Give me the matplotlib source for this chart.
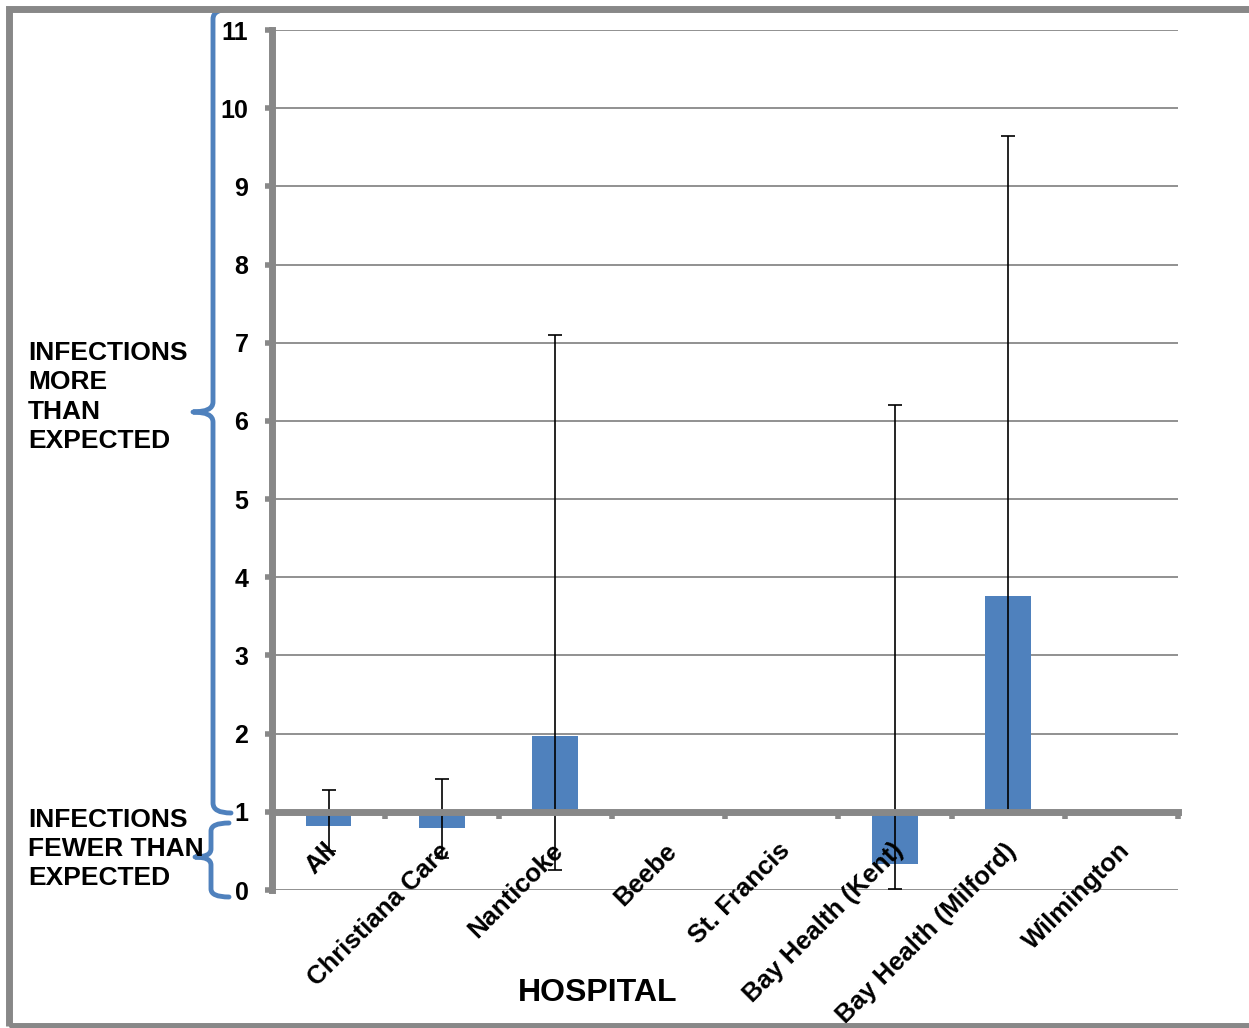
import numpy as np
import matplotlib.pyplot as plt
from matplotlib.path import Path
from matplotlib.patches import PathPatch, Rectangle

plt.rcParams['font.family'] = ['Liberation Sans', 'DejaVu Sans']
plt.rcParams['font.weight'] = 'bold'

hospitals = ['All', 'Christiana Care', 'Nanticoke', 'Beebe', 'St. Francis',
             'Bay Health (Kent)', 'Bay Health (Milford)', 'Wilmington']
sir = [0.82, 0.79, 1.97, np.nan, np.nan, 0.33, 3.76, np.nan]
ci_low = [0.50, 0.41, 0.25, np.nan, np.nan, 0.01, 1.0, np.nan]
ci_high = [1.28, 1.42, 7.10, np.nan, np.nan, 6.20, 9.64, np.nan]
yticks = list(range(0, 12))

W, H = 1249, 1028
fig = plt.figure(figsize=(W / 100, H / 100), dpi=100)
ax = fig.add_axes([272 / W, 1 - 890 / H, (1178 - 272) / W, (890 - 30) / H])

gris = '#888888'
azul = '#4F81BD'
x = np.arange(len(hospitals))
sir = np.array(sir)
lo = np.array(ci_low)
hi = np.array(ci_high)

# barras que parten de 1 (referencia)
ax.bar(x, sir - 1, bottom=1, width=0.4, color=azul, zorder=2)
ax.errorbar(x, sir, yerr=[sir - lo, hi - sir], fmt='none', ecolor='black',
            elinewidth=1.2, capsize=5, capthick=1.2, zorder=2.5)

ax.set_xlim(-0.5, len(hospitals) - 0.5)
ax.set_ylim(0, 11)
ax.set_yticks(yticks)
ax.set_yticklabels([str(t) for t in yticks], fontsize=18, fontweight='bold')
for t in yticks:
    if t != 1:
        ax.axhline(t, color=gris, lw=1.3, zorder=1)

for s in ['top', 'right']:
    ax.spines[s].set_visible(False)
ax.spines['left'].set_color(gris)
ax.spines['left'].set_linewidth(5)
ax.spines['bottom'].set_position(('data', 1))
ax.spines['bottom'].set_color(gris)
ax.spines['bottom'].set_linewidth(5)
ax.spines['bottom'].set_zorder(3)

ax.set_xticks(np.arange(-0.5, len(hospitals)), labels=[])
ax.tick_params(axis='x', length=5, width=4, color=gris, direction='out')
ax.tick_params(axis='y', length=5, width=4, color=gris, direction='out', pad=12)

for i, nombre in enumerate(hospitals):
    ax.text(i + 0.04, 0.55, nombre, rotation=45, ha='right', va='center',
            rotation_mode='anchor', fontsize=18.5, fontweight='bold', zorder=5)

fig.text(598 / W, 1 - 993 / H, 'HOSPITAL', fontsize=23, fontweight='bold',
         ha='center', va='center')

fig.text(28 / W, 1 - 397 / H, 'INFECTIONS\nMORE\nTHAN\nEXPECTED', fontsize=19,
         fontweight='bold', ha='left', va='center', linespacing=1.28)
fig.text(28 / W, 1 - 849 / H, 'INFECTIONS\nFEWER THAN\nEXPECTED', fontsize=19,
         fontweight='bold', ha='left', va='center', linespacing=1.28)


def llave(xp, y0, y1, ym, gancho, punta, r=10):
    pts = [(xp + gancho, y0), (xp, y0), (xp, y0 + r),
           (xp, ym - r), (xp, ym), (xp - punta, ym),
           (xp, ym), (xp, ym + r),
           (xp, y1 - r), (xp, y1), (xp + gancho, y1)]
    codes = [Path.MOVETO, Path.CURVE3, Path.CURVE3,
             Path.LINETO, Path.CURVE3, Path.CURVE3,
             Path.CURVE3, Path.CURVE3,
             Path.LINETO, Path.CURVE3, Path.CURVE3]
    pts = [(px / W, 1 - py / H) for px, py in pts]
    fig.patches.append(PathPatch(Path(pts, codes), transform=fig.transFigure,
                                 fill=False, edgecolor=azul, lw=3.5,
                                 capstyle='round', joinstyle='round'))


llave(213, 9, 813, 412, 18, 20)
llave(211, 823, 897, 857, 18, 16, r=8)

# marco gris
fig.patches.append(Rectangle((9 / W, 1 - 1026 / H), 1.1, (1026 - 9) / H,
                             transform=fig.transFigure, fill=False,
                             edgecolor=gris, lw=5, clip_on=False))

fig.savefig('out.png', dpi=100)
